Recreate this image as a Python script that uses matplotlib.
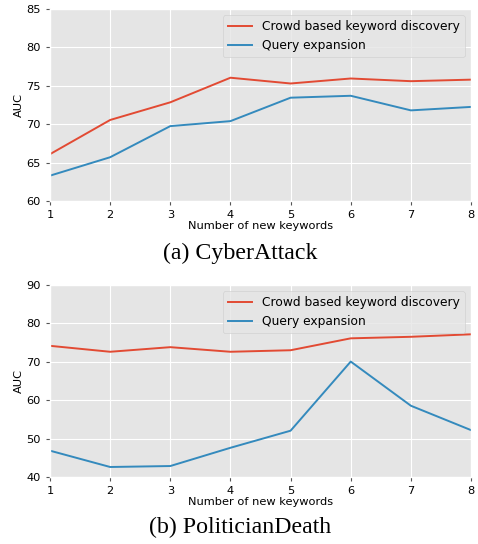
import numpy as np
import matplotlib
matplotlib.use("Agg")
import matplotlib.pyplot as plt

plt.style.use("ggplot")

n_keywords = [1, 2, 3, 4, 5, 6, 7, 8]

# (a) CyberAttack
cyber_crowd = [66.1, 70.55, 72.85, 76.05, 75.3, 75.95, 75.6, 75.8]
cyber_query = [63.3, 65.7, 69.75, 70.4, 73.45, 73.7, 71.8, 72.25]

# (b) PoliticianDeath
pol_crowd = [74.15, 72.6, 73.8, 72.6, 73.0, 76.1, 76.5, 77.15]
pol_query = [46.85, 42.6, 42.85, 47.6, 52.05, 70.05, 58.55, 52.2]

labels = ["Crowd based keyword discovery", "Query expansion"]
captions = ["(a) CyberAttack", "(b) PoliticianDeath"]

fig = plt.figure(figsize=(4.78, 5.44), dpi=100)
ax1 = fig.add_axes([0.1046, 0.6305, 0.8808, 0.353])
ax2 = fig.add_axes([0.1046, 0.1232, 0.8808, 0.353])

panels = [
    (ax1, cyber_crowd, cyber_query, (60, 85), [60, 65, 70, 75, 80, 85]),
    (ax2, pol_crowd, pol_query, (40, 90), [40, 50, 60, 70, 80, 90]),
]

for ax, crowd, query, ylim, yticks in panels:
    ax.plot(n_keywords, crowd, color="#E24A33", lw=1.4, label=labels[0])
    ax.plot(n_keywords, query, color="#348ABD", lw=1.4, label=labels[1])
    ax.set_xlim(1, 8)
    ax.set_ylim(*ylim)
    ax.set_yticks(yticks)
    ax.set_xticks(n_keywords)
    ax.tick_params(labelsize=8.2, colors="#555555", labelcolor="black", length=3)
    ax.set_xlabel("Number of new keywords", fontsize=8.2, color="black", labelpad=1)
    ax.set_ylabel("AUC", fontsize=8.2, color="black", labelpad=2)
    ax.legend(loc="upper right", fontsize=8.8, framealpha=0.8)

fig.text(0.502, 1 - 253 / 544, captions[0], ha="center", va="center",
         fontsize=17.2, family="Liberation Serif")
fig.text(0.502, 1 - 527 / 544, captions[1], ha="center", va="center",
         fontsize=17.2, family="Liberation Serif")

fig.savefig("out.png", dpi=100)
